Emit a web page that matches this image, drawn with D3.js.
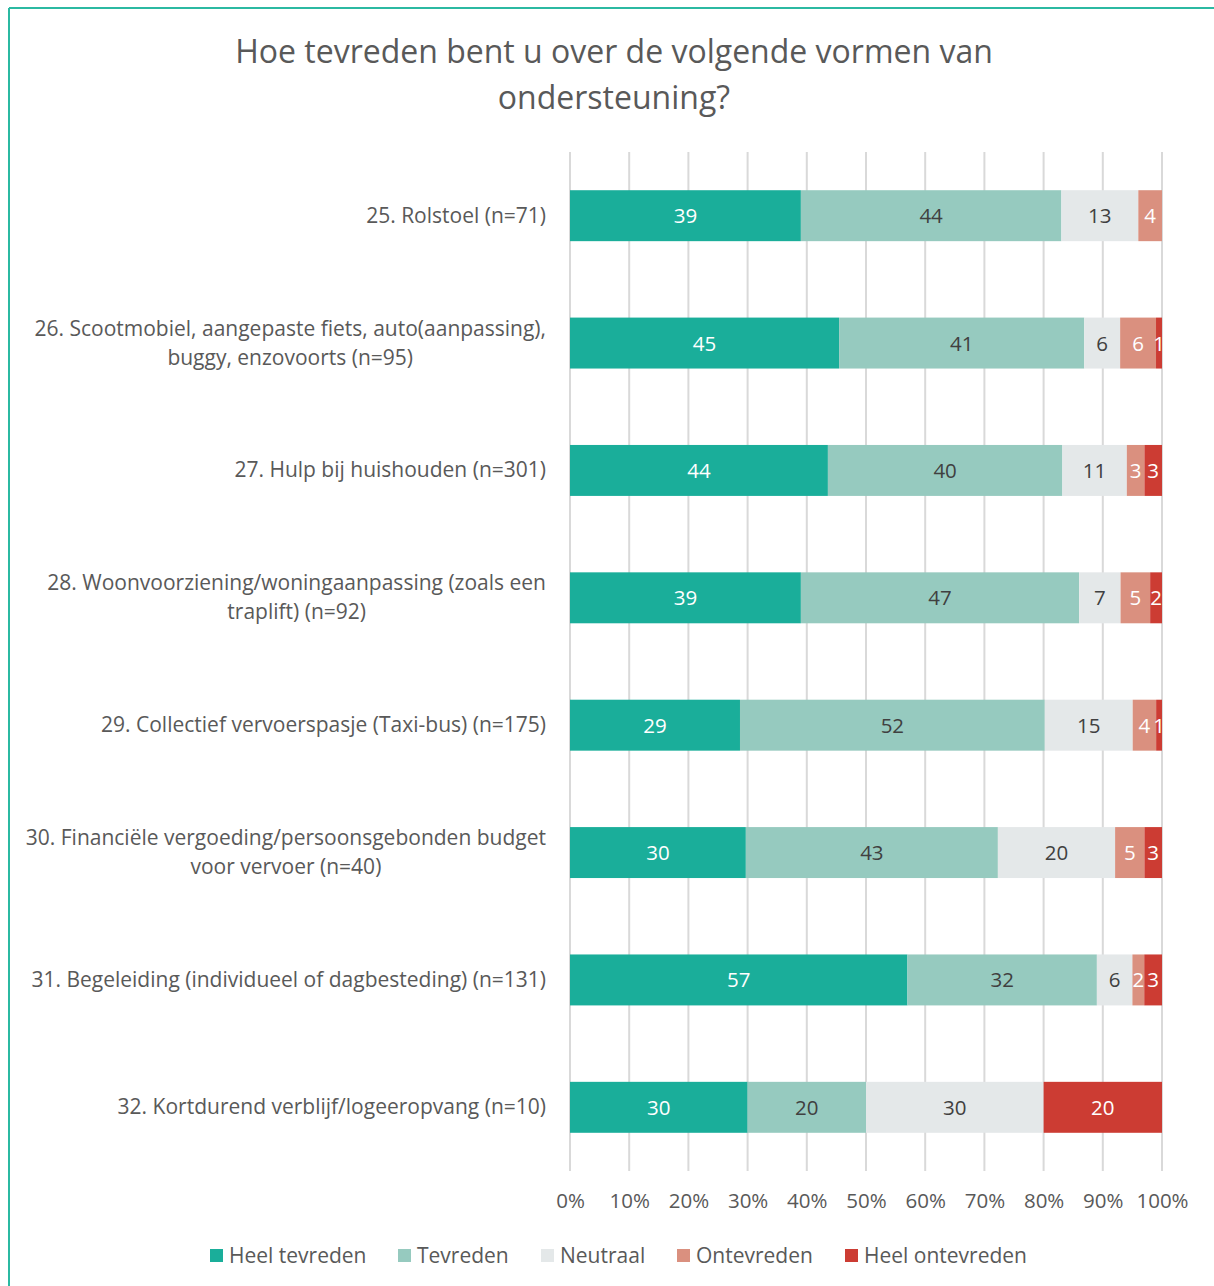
<!DOCTYPE html>
<html>
<head>
<meta charset="utf-8">
<script src="https://cdn.jsdelivr.net/npm/d3@7"></script>
<style>
  body { margin: 0; background: #fff; }
  svg { display: block; font-family: "Open Sans", sans-serif; }
</style>
</head>
<body>
<div id="viz"></div>
<script>
const width = 1214;
const height = 1286;
const margin = {top: 152, right: 52, bottom: 115, left: 570};

const titleLines = ['Hoe tevreden bent u over de volgende vormen van', 'ondersteuning?'];

const categories = [
  ['25. Rolstoel (n=71)'],
  ['26. Scootmobiel, aangepaste fiets, auto(aanpassing),', 'buggy, enzovoorts (n=95)'],
  ['27. Hulp bij huishouden (n=301)'],
  ['28. Woonvoorziening/woningaanpassing (zoals een', 'traplift) (n=92)'],
  ['29. Collectief vervoerspasje (Taxi-bus) (n=175)'],
  ['30. Financiële vergoeding/persoonsgebonden budget', 'voor vervoer (n=40)'],
  ['31. Begeleiding (individueel of dagbesteding) (n=131)'],
  ['32. Kortdurend verblijf/logeeropvang (n=10)']
];

const seriesNames = ['Heel tevreden', 'Tevreden', 'Neutraal', 'Ontevreden', 'Heel ontevreden'];

const heelTevreden   = [39, 45, 44, 39, 29, 30, 57, 30];
const tevreden       = [44, 41, 40, 47, 52, 43, 32, 20];
const neutraal       = [13, 6, 11, 7, 15, 20, 6, 30];
const ontevreden     = [4, 6, 3, 5, 4, 5, 2, 0];
const heelOntevreden = [0, 1, 3, 2, 1, 3, 3, 20];

const tickValues = [0, 0.1, 0.2, 0.3, 0.4, 0.5, 0.6, 0.7, 0.8, 0.9, 1];

const colors = ['#1aae9a', '#96cabf', '#e4e8e9', '#da907f', '#cc3c33'];
const labelColors = ['#ffffff', '#404040', '#404040', '#ffffff', '#ffffff'];

const seriesValues = [heelTevreden, tevreden, neutraal, ontevreden, heelOntevreden];
const rows = categories.map((c, i) => {
  const row = {key: i};
  seriesNames.forEach((s, j) => row[s] = seriesValues[j][i]);
  return row;
});

const stack = d3.stack()
  .keys(seriesNames)
  .offset(d3.stackOffsetExpand);
const stacked = stack(rows);

const xScale = d3.scaleLinear()
  .domain([0, 1])
  .range([margin.left, width - margin.right]);

const yScale = d3.scaleBand()
  .domain(rows.map(d => d.key))
  .range([margin.top, height - margin.bottom])
  .paddingInner(0.6)
  .paddingOuter(0.3);

const svg = d3.select('#viz')
  .append('svg')
  .attr('width', width)
  .attr('height', height)
  .attr('viewBox', [0, 0, width, height]);

// frame lines (top + left)
svg.append('line')
  .attr('x1', 9).attr('x2', width).attr('y1', 8).attr('y2', 8)
  .attr('stroke', '#2bb9a2').attr('stroke-width', 2);
svg.append('line')
  .attr('x1', 9).attr('x2', 9).attr('y1', 8).attr('y2', height)
  .attr('stroke', '#2bb9a2').attr('stroke-width', 2);

// title
svg.append('text')
  .attr('text-anchor', 'middle')
  .attr('fill', '#595959')
  .attr('font-size', 32)
  .selectAll('tspan')
  .data(titleLines)
  .join('tspan')
  .attr('x', 614)
  .attr('y', (d, i) => 63 + i * 46)
  .text(d => d);

// gridlines
svg.append('g')
  .attr('class', 'grid')
  .selectAll('line')
  .data(tickValues)
  .join('line')
  .attr('x1', d => xScale(d))
  .attr('x2', d => xScale(d))
  .attr('y1', margin.top)
  .attr('y2', height - margin.bottom)
  .attr('stroke', '#d9d9d9')
  .attr('stroke-width', 2);

// x axis labels
const xAxis = svg.append('g')
  .attr('class', 'x-axis')
  .attr('transform', `translate(0, ${height - margin.bottom})`)
  .call(d3.axisBottom(xScale).tickValues(tickValues).tickFormat(d3.format('.0%')).tickSize(0).tickPadding(22));
xAxis.select('.domain').remove();
xAxis.selectAll('text')
  .attr('fill', '#595959')
  .attr('font-size', 20.5)
  .attr('font-family', '"Open Sans", sans-serif');

// category labels
svg.append('g')
  .attr('class', 'y-labels')
  .selectAll('text')
  .data(rows)
  .join('text')
  .attr('text-anchor', 'end')
  .attr('fill', '#595959')
  .attr('font-size', 21)
  .each(function (d) {
    const lines = categories[d.key];
    const cy = yScale(d.key) + yScale.bandwidth() / 2;
    d3.select(this).selectAll('tspan')
      .data(lines)
      .join('tspan')
      .attr('x', lines.length > 1 ? null : 546)
      .attr('y', (l, i) => cy + 7 + (i - (lines.length - 1) / 2) * 29)
      .text(l => l);
  });
// center second lines of two-line labels under the first line
svg.selectAll('.y-labels text').each(function (d) {
  const lines = categories[d.key];
  if (lines.length < 2) return;
  const t = d3.select(this).attr('text-anchor', 'middle');
  const tsp = t.selectAll('tspan').nodes();
  const w0 = tsp[0].getComputedTextLength();
  tsp.forEach(n => d3.select(n).attr('x', 546 - w0 / 2));
});

// bars
const groups = svg.append('g')
  .attr('class', 'bar-group')
  .selectAll('g')
  .data(stacked)
  .join('g')
  .attr('fill', (d, i) => colors[i]);

groups.selectAll('rect')
  .data(d => d)
  .join('rect')
  .attr('x', d => xScale(d[0]))
  .attr('y', d => yScale(d.data.key))
  .attr('width', d => xScale(d[1]) - xScale(d[0]))
  .attr('height', yScale.bandwidth());

// value labels
svg.append('g')
  .attr('class', 'value-labels')
  .selectAll('g')
  .data(stacked)
  .join('g')
  .attr('fill', (d, i) => labelColors[i])
  .attr('font-size', 20.5)
  .attr('text-anchor', 'middle')
  .selectAll('text')
  .data(d => d.filter(p => p.data[d.key] > 0).map(p => ({p, v: p.data[d.key]})))
  .join('text')
  .attr('x', d => xScale((d.p[0] + d.p[1]) / 2))
  .attr('y', d => yScale(d.p.data.key) + yScale.bandwidth() / 2 + 7.5)
  .text(d => d.v);

// legend
const legendX = [210, 398, 541, 677, 845];
const legend = svg.append('g')
  .attr('class', 'legend')
  .selectAll('g')
  .data(seriesNames)
  .join('g')
  .attr('transform', (d, i) => `translate(${legendX[i]}, 1255)`);
legend.append('rect')
  .attr('x', 0).attr('y', -6)
  .attr('width', 13).attr('height', 13)
  .attr('fill', (d, i) => colors[i]);
legend.append('text')
  .attr('x', 19).attr('y', 7.5)
  .attr('fill', '#595959')
  .attr('font-size', 21)
  .text(d => d);
</script>
</body>
</html>
